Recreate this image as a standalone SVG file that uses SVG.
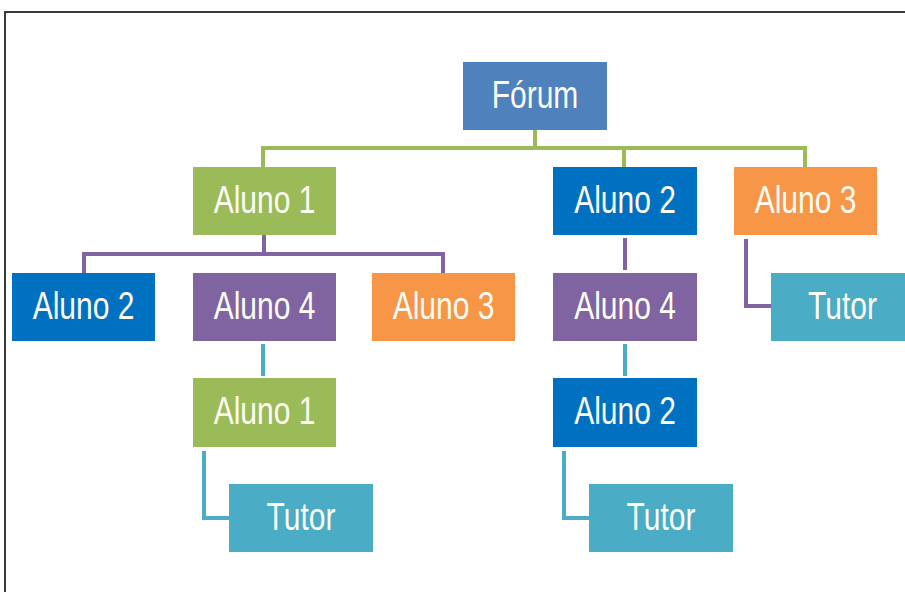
<svg xmlns="http://www.w3.org/2000/svg" width="905" height="592" viewBox="0 0 905 592">
<style>
.box{stroke:none}
.t{font-family:"Liberation Sans",Arial,sans-serif;font-size:30px;fill:#FCFCF4;text-anchor:middle}
.ln{fill:none;stroke-width:4;stroke-linecap:butt;stroke-linejoin:miter}
.g{stroke:#9BBB59}.p{stroke:#8064A2}.c{stroke:#4BACC6}
.blue1{fill:#4F81BD}.green{fill:#9BBB59}.blue{fill:#0070C0}.orange{fill:#F79646}.purple{fill:#8064A2}.teal{fill:#4BACC6}
</style>
<rect width="905" height="592" fill="#FFFFFF"/>
<path d="M5,592 V12 H905" fill="none" stroke="#3a3a3a" stroke-width="2"/>
<g id="connectors">
<path class="ln g" d="M535,130 V148 M263,167 V148 H805 V167 M624,148 V167"/>
<path class="ln p" d="M264,235 V254 M84,273 V254 H443 V273"/>
<path class="ln p" d="M625,238 V270"/>
<path class="ln c" d="M263,344 V376"/>
<path class="ln c" d="M625,344 V376"/>
<path class="ln c" d="M204,451 V518 H229"/>
<path class="ln c" d="M564,451 V518 H589"/>
<path class="ln p" d="M746,239 V306 H771"/>
</g>
<g id="forum"><rect class="box blue1" x="463" y="62" width="144" height="68"/><text class="t" transform="translate(535,108) scale(1,1.3)">Fórum</text></g>
<g id="aluno1"><rect class="box green" x="193" y="167" width="143" height="68"/><text class="t" transform="translate(264.5,213) scale(1,1.3)">Aluno 1</text></g>
<g id="aluno2"><rect class="box blue" x="553" y="167" width="144" height="68"/><text class="t" transform="translate(625,213) scale(1,1.3)">Aluno 2</text></g>
<g id="aluno3"><rect class="box orange" x="734" y="167" width="143" height="68"/><text class="t" transform="translate(805.5,213) scale(1,1.3)">Aluno 3</text></g>
<g id="a1-aluno2"><rect class="box blue" x="12" y="273" width="143" height="68"/><text class="t" transform="translate(83.5,319) scale(1,1.3)">Aluno 2</text></g>
<g id="a1-aluno4"><rect class="box purple" x="193" y="273" width="143" height="68"/><text class="t" transform="translate(264.5,319) scale(1,1.3)">Aluno 4</text></g>
<g id="a1-aluno3"><rect class="box orange" x="372" y="273" width="143" height="68"/><text class="t" transform="translate(443.5,319) scale(1,1.3)">Aluno 3</text></g>
<g id="a2-aluno4"><rect class="box purple" x="553" y="273" width="144" height="68"/><text class="t" transform="translate(625,319) scale(1,1.3)">Aluno 4</text></g>
<g id="a3-tutor"><rect class="box teal" x="771" y="273" width="143" height="68"/><text class="t" transform="translate(842.5,319) scale(1,1.3)">Tutor</text></g>
<g id="a4-aluno1"><rect class="box green" x="193" y="378" width="143" height="69"/><text class="t" transform="translate(264.5,424) scale(1,1.3)">Aluno 1</text></g>
<g id="a4-aluno2"><rect class="box blue" x="553" y="378" width="144" height="69"/><text class="t" transform="translate(625,424) scale(1,1.3)">Aluno 2</text></g>
<g id="tutor-left"><rect class="box teal" x="229" y="484" width="144" height="68"/><text class="t" transform="translate(301,530) scale(1,1.3)">Tutor</text></g>
<g id="tutor-right"><rect class="box teal" x="589" y="484" width="144" height="68"/><text class="t" transform="translate(661,530) scale(1,1.3)">Tutor</text></g>
</svg>
